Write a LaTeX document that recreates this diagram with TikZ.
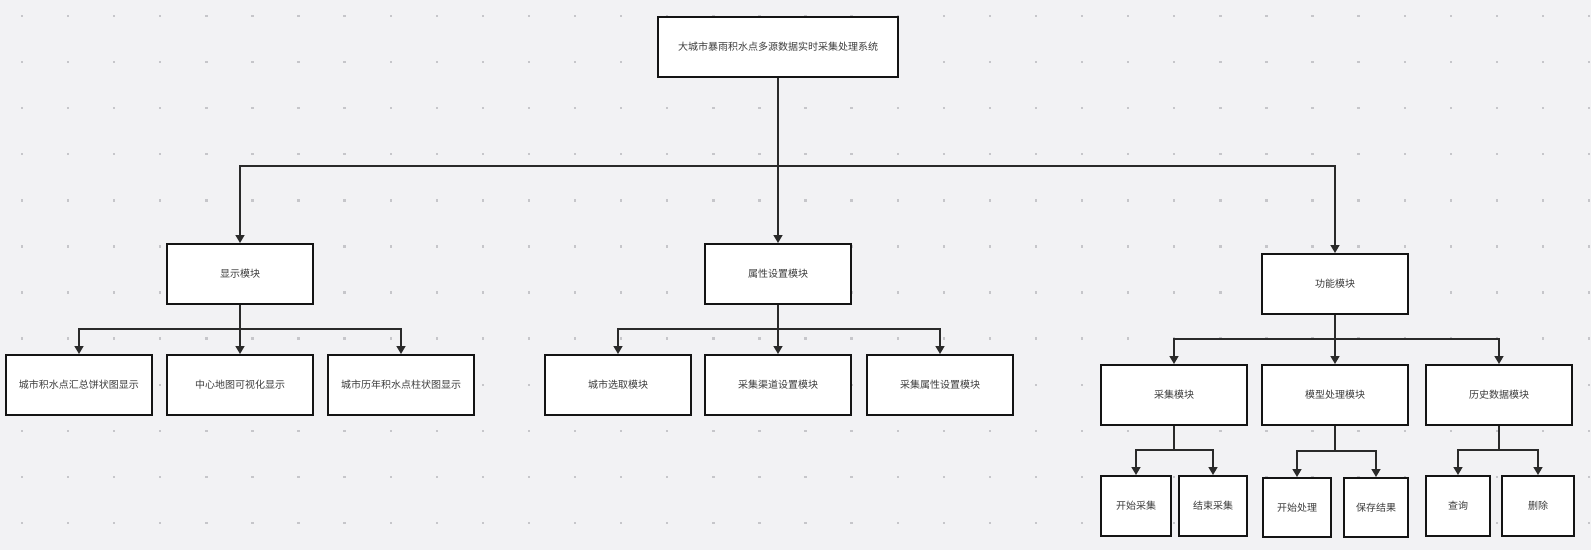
\documentclass[tikz,border=0pt]{standalone}
\usepackage{fontspec}
\newfontfamily\cjk{Noto Sans CJK SC}
\usetikzlibrary{arrows.meta}
\definecolor{bgc}{HTML}{F2F2F4}
\definecolor{dotc}{HTML}{C6C6CA}
\definecolor{txtc}{HTML}{3C3C3C}
\definecolor{linec}{HTML}{2A2A2A}
\tikzset{
  box/.style={draw=black!92, line width=2pt, fill=white, inner sep=0pt,
    minimum width=146pt, minimum height=60pt, text=txtc,
    font=\cjk\fontsize{10}{12}\selectfont},
  conn/.style={draw=linec, line width=1.5pt},
  arr/.style={conn, -{Triangle[width=9pt,length=8pt]}}
}
\begin{document}
\begin{tikzpicture}[x=1pt,y=-1pt]
\useasboundingbox[fill=bgc] (0,0) rectangle (1591,550);
\foreach \i in {0,...,34}{
  \foreach \j in {0,...,11}{
    \fill[dotc] ({22+46.09*\i-1.2},{16+46.09*\j-1.2}) rectangle ++(2.4,2.4);
  }
}
% level 0
\node[box, minimum width=240pt] (root) at (778,47) {大城市暴雨积水点多源数据实时采集处理系统};
% level 1
\node[box] (disp) at (240,274) {显示模块};
\node[box] (attr) at (778,274) {属性设置模块};
\node[box] (func) at (1335,284) {功能模块};
% level 2
\node[box] (d1) at (79,385) {城市积水点汇总饼状图显示};
\node[box] (d2) at (240,385) {中心地图可视化显示};
\node[box] (d3) at (401,385) {城市历年积水点柱状图显示};
\node[box] (a1) at (618,385) {城市选取模块};
\node[box] (a2) at (778,385) {采集渠道设置模块};
\node[box] (a3) at (940,385) {采集属性设置模块};
\node[box] (f1) at (1174,395) {采集模块};
\node[box] (f2) at (1335,395) {模型处理模块};
\node[box] (f3) at (1499,395) {历史数据模块};
% level 3
\node[box, minimum width=70pt] (g1) at (1136,506) {开始采集};
\node[box, minimum width=68pt] (g2) at (1213,506) {结束采集};
\node[box, minimum width=68pt, minimum height=59pt] (g3) at (1297,507.5) {开始处理};
\node[box, minimum width=64pt, minimum height=59pt] (g4) at (1376,507.5) {保存结果};
\node[box, minimum width=64pt] (g5) at (1458,506) {查询};
\node[box, minimum width=72pt] (g6) at (1538,506) {删除};
% junctions
\coordinate (j0) at (778,166);
\coordinate (jd) at (240,329);
\coordinate (ja) at (778,329);
\coordinate (jf) at (1335,339);
\coordinate (jg1) at (1174,450);
\coordinate (jg2) at (1335,451);
\coordinate (jg3) at (1499,450);
% connectors
\draw[conn] (root.south) -- (j0);
\draw[arr] (j0) -| (disp.north);
\draw[arr] (j0) -- (attr.north);
\draw[arr] (j0) -| (func.north);
\draw[conn] (disp.south) -- (jd);
\draw[arr] (jd) -| (d1.north);
\draw[arr] (jd) -- (d2.north);
\draw[arr] (jd) -| (d3.north);
\draw[conn] (attr.south) -- (ja);
\draw[arr] (ja) -| (a1.north);
\draw[arr] (ja) -- (a2.north);
\draw[arr] (ja) -| (a3.north);
\draw[conn] (func.south) -- (jf);
\draw[arr] (jf) -| (f1.north);
\draw[arr] (jf) -- (f2.north);
\draw[arr] (jf) -| (f3.north);
\draw[conn] (f1.south) -- (jg1);
\draw[arr] (jg1) -| (g1.north);
\draw[arr] (jg1) -| (g2.north);
\draw[conn] (f2.south) -- (jg2);
\draw[arr] (jg2) -| (g3.north);
\draw[arr] (jg2) -| (g4.north);
\draw[conn] (f3.south) -- (jg3);
\draw[arr] (jg3) -| (g5.north);
\draw[arr] (jg3) -| (g6.north);
\end{tikzpicture}
\end{document}
